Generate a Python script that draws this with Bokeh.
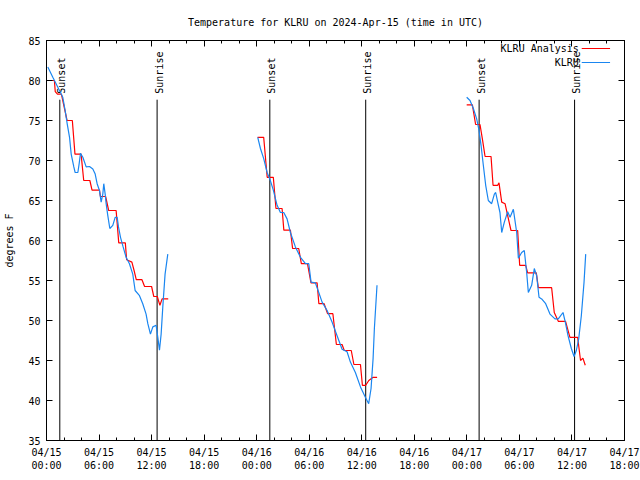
import math
from bokeh.plotting import figure
from bokeh.models import LinearAxis, FixedTicker, Range1d, Title
from bokeh.embed import file_html
from bokeh.resources import INLINE
from bokeh.core.properties import value

title_text = "Temperature for KLRU on 2024-Apr-15 (time in UTC)"
y_label = "degrees F"
series_names = ["KLRU Analysis", "KLRU"]

# x axis: hours since 2024-04-15 00:00 UTC
tick_hours = [0, 6, 12, 18, 24, 30, 36, 42, 48, 54, 60, 66]
tick_labels = ["04/15\n00:00", "04/15\n06:00", "04/15\n12:00", "04/15\n18:00",
               "04/16\n00:00", "04/16\n06:00", "04/16\n12:00", "04/16\n18:00",
               "04/17\n00:00", "04/17\n06:00", "04/17\n12:00", "04/17\n18:00"]
minor_hours = [2, 4, 8, 10, 14, 16, 20, 22, 26, 28, 32, 34, 38, 40, 44, 46,
               50, 52, 56, 58, 62, 64]
y_ticks = [35, 40, 45, 50, 55, 60, 65, 70, 75, 80, 85]

# KLRU Analysis (red)
analysis_hours_1 = [0.05, 0.9, 1.0, 1.25, 1.7, 2.35, 2.95, 3.25, 3.95, 4.25, 4.95, 5.2, 6.05,
                    6.15, 6.75, 7.1, 7.95, 8.25, 9.0, 9.15, 9.75, 10.0, 10.25, 10.9, 11.2,
                    12.0, 12.25, 12.65, 12.95, 13.2, 13.9]
analysis_temp_1 = [80.0, 80.0, 78.6, 78.3, 78.3, 75.0, 75.0, 70.8, 70.8, 67.5, 67.5, 66.3, 66.3,
                   65.5, 65.5, 63.75, 63.75, 59.7, 59.7, 57.6, 57.3, 56.25, 55.1, 55.1, 54.25,
                   54.25, 53.0, 53.0, 51.9, 52.7, 52.7]
analysis_hours_2 = [24.1, 24.8, 25.0, 25.2, 25.9, 26.2, 26.9, 27.1, 27.85, 28.1, 28.8, 29.1,
                    29.8, 30.2, 30.9, 31.1, 31.7, 32.1, 32.7, 33.1, 33.75, 34.0, 34.8, 35.1,
                    35.85, 36.07, 36.45, 36.8, 37.3, 37.75]
analysis_temp_2 = [72.9, 72.9, 70.4, 67.9, 67.9, 64.0, 64.0, 61.3, 61.3, 59.0, 59.0, 57.1,
                   57.1, 54.7, 54.7, 52.1, 52.1, 50.85, 50.85, 47.0, 47.0, 46.25, 46.25, 44.5,
                   44.5, 41.9, 41.9, 42.5, 42.9, 42.9]
analysis_hours_3 = [47.98, 48.63, 49.0, 49.5, 49.77, 50.08, 50.76, 50.99, 51.52, 51.67, 51.98,
                    52.36, 52.66, 53.04, 53.8, 54.03, 54.72, 54.94, 55.93, 56.16, 57.68, 57.98,
                    58.44, 59.27, 59.77, 60.65, 60.98, 61.25, 61.52]
analysis_temp_3 = [76.96, 76.96, 74.5, 74.5, 72.7, 70.5, 70.5, 66.9, 66.9, 67.2, 64.8,
                   64.6, 63.1, 61.25, 61.25, 56.9, 56.9, 55.96, 55.96, 54.1, 54.1, 51.0,
                   49.9, 49.9, 47.9, 47.9, 45.0, 45.3, 44.4]

# KLRU observations (blue)
obs_hours_1 = [0.15, 0.72, 1.48, 1.86, 2.13, 2.36, 2.63, 2.82, 3.12, 3.27, 3.58, 3.73, 3.88,
               4.15, 4.53, 4.91, 5.29, 5.56, 5.78, 6.05, 6.24, 6.43, 6.54, 6.7, 6.81, 7.0,
               7.23, 7.57, 7.84, 8.07, 8.22, 8.45, 8.75, 9.09, 9.47, 9.85, 10.12, 10.62,
               10.99, 11.37, 11.57, 11.87, 12.14, 12.52, 12.71, 12.9, 13.09, 13.28, 13.54,
               13.85]
obs_temp_1 = [81.7, 80.4, 78.75, 77.9, 76.25, 74.6, 72.9, 70.8, 69.2, 68.5, 68.5, 69.6, 70.9,
              70.4, 69.2, 69.25, 68.95, 68.3, 67.1, 66.25, 64.8, 65.8, 67.1, 65.8, 64.6, 63.1,
              61.5, 61.9, 62.9, 62.9, 61.7, 60.4, 59.2, 57.9, 57.1, 55.8, 53.75, 53.1,
              52.1, 50.8, 49.6, 48.3, 49.2, 49.4, 47.9, 46.3, 48.3, 51.7, 55.8, 58.3]
obs_hours_2 = [24.12, 24.43, 24.81, 25.19, 25.5, 25.9, 26.33, 26.71, 27.09, 27.47, 27.85,
               28.42, 29.0, 29.57, 29.95, 30.21, 30.7, 31.09, 31.47, 32.04, 32.61, 33.18,
               33.75, 34.32, 34.7, 35.27, 35.85, 36.41, 36.79, 37.06, 37.29, 37.44, 37.74]
obs_temp_2 = [72.9, 71.5, 70.2, 68.5, 67.7, 66.3, 64.4, 63.5, 63.5, 62.7, 61.0,
              59.2, 57.9, 57.1, 57.1, 54.8, 54.7, 53.5, 52.3, 51.25, 49.8, 48.1,
              46.4, 46.1, 44.8, 43.5, 41.7, 40.4, 39.6, 41.5, 45.2, 49.0, 54.4]
obs_hours_3 = [47.98, 48.36, 48.74, 49.12, 49.39, 49.62, 49.88, 50.15, 50.45, 50.83, 51.14,
               51.29, 51.52, 51.78, 51.98, 52.28, 52.66, 52.93, 53.31, 53.69, 53.88, 54.26,
               54.56, 54.83, 55.02, 55.4, 55.7, 55.97, 56.24, 56.54, 57.0, 57.49, 58.06,
               58.44, 58.98, 59.24, 59.55, 59.93, 60.24, 60.5, 60.77, 61.07, 61.38, 61.57]
obs_temp_3 = [77.9, 77.5, 76.5, 75.2, 73.75, 71.9, 69.4, 66.9, 65.0, 64.6, 65.8,
              66.0, 64.8, 63.5, 61.0, 62.3, 63.6, 62.9, 63.9, 61.0, 57.8, 58.5,
              58.75, 56.0, 53.5, 54.4, 56.5, 55.6, 52.9, 52.7, 52.1, 50.8, 50.2,
              50.2, 51.0, 49.8, 48.1, 46.5, 45.5, 46.25, 47.7, 50.6, 54.8, 58.3]

sunset_hours = [1.52, 25.5, 49.4]
sunrise_hours = [12.63, 36.45, 60.3]

FONT = "DejaVu Sans Mono"
RED = "#ff0000"
BLUE = "#1a86f0"
X0, X1 = 0, 66
Y0, Y1 = 35, 85

p = figure(width=640, height=480, x_range=Range1d(X0, X1), y_range=Range1d(Y0, Y1),
           output_backend="svg", toolbar_location=None,
           min_border_left=46, min_border_right=16, min_border_top=40, min_border_bottom=40)
p.background_fill_color = "white"
p.border_fill_color = "white"
p.outline_line_color = "black"
p.outline_line_width = 1
p.xgrid.visible = False
p.ygrid.visible = False

xt = FixedTicker(ticks=tick_hours, minor_ticks=minor_hours)
yt = FixedTicker(ticks=y_ticks, minor_ticks=[])

def style_axis(ax, show_labels):
    ax.axis_line_color = "black"
    ax.major_tick_in = 6
    ax.major_tick_out = 0
    ax.minor_tick_in = 3
    ax.minor_tick_out = 0
    ax.major_tick_line_color = "black"
    ax.minor_tick_line_color = "black"
    ax.major_label_text_font = FONT
    ax.major_label_text_font_size = "10px"
    ax.major_label_text_color = "black"
    if not show_labels:
        ax.major_label_text_font_size = "0px"
        ax.major_label_standoff = 0

xa = p.xaxis[0]
xa.ticker = xt
xa.major_label_overrides = {h: lab for h, lab in zip(tick_hours, tick_labels)}
style_axis(xa, True)
xa.major_label_standoff = 6

ya = p.yaxis[0]
ya.ticker = yt
style_axis(ya, True)
ya.major_label_standoff = 6
ya.axis_label = y_label
ya.axis_label_text_font = FONT
ya.axis_label_text_font_size = "10px"
ya.axis_label_text_font_style = "normal"
ya.axis_label_text_color = "black"
ya.axis_label_standoff = 10

top = LinearAxis(ticker=xt)
style_axis(top, False)
top.major_label_overrides = {h: "" for h in tick_hours}

right = LinearAxis(ticker=yt)
style_axis(right, False)
right.major_label_overrides = {v: "" for v in y_ticks}
p.add_layout(right, "right")

t = Title(text=title_text, align="center", text_font=FONT, text_font_size="10px",
          text_font_style="normal", text_color="black", standoff=25)
# top axis sits on the frame, then the title above it
p.above = [top, t]

# sunset / sunrise markers
line_top = Y0 + 0.852 * (Y1 - Y0)
label_y = Y0 + 0.867 * (Y1 - Y0)
for hours, name in ((sunset_hours, "Sunset"), (sunrise_hours, "Sunrise")):
    p.segment(x0=hours, y0=[Y0] * len(hours), x1=hours, y1=[line_top] * len(hours),
              line_color="black", line_width=1)
    p.text(x=hours, y=[label_y] * len(hours), text=[name] * len(hours), angle=math.pi / 2,
           text_align="left", text_baseline="middle", x_offset=2,
           text_font=value(FONT), text_font_size=value("10px"), text_color="black")

# data
for hx, tv in ((analysis_hours_1, analysis_temp_1), (analysis_hours_2, analysis_temp_2),
               (analysis_hours_3, analysis_temp_3)):
    p.line(hx, tv, line_color=RED, line_width=1.2)
for hx, tv in ((obs_hours_1, obs_temp_1), (obs_hours_2, obs_temp_2),
               (obs_hours_3, obs_temp_3)):
    p.line(hx, tv, line_color=BLUE, line_width=1.2)

# gnuplot-style key (label then sample), top right inside the frame
key_text_x = X0 + 0.921 * (X1 - X0)
key_line_x0 = X0 + 0.926 * (X1 - X0)
key_line_x1 = X0 + 0.975 * (X1 - X0)
key_ys = [Y0 + 0.98 * (Y1 - Y0), Y0 + 0.945 * (Y1 - Y0)]
p.text(x=[key_text_x] * 2, y=key_ys, text=series_names, text_align="right",
       text_baseline="middle", text_font=value(FONT), text_font_size=value("10px"),
       text_color="black")
p.segment(x0=[key_line_x0] * 2, y0=key_ys, x1=[key_line_x1] * 2, y1=key_ys,
          line_color=[RED, BLUE], line_width=1.2)

open("out.html", "w").write(file_html(p, INLINE))
